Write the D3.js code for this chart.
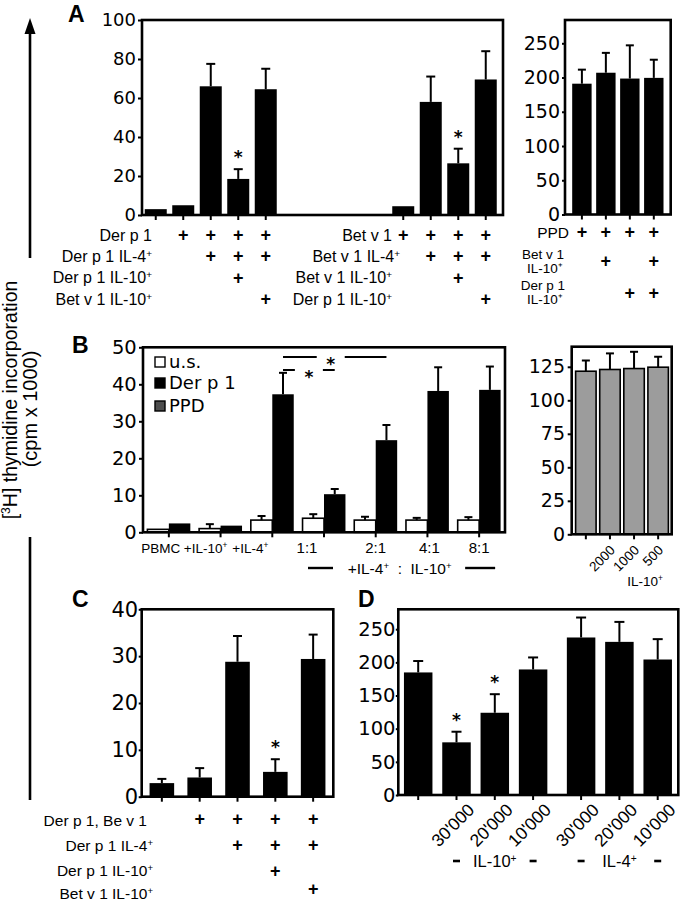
<!DOCTYPE html>
<html><head><meta charset="utf-8">
<script src="https://cdn.jsdelivr.net/npm/d3@7"></script>
<style>body{margin:0;background:#fff}svg{display:block}</style>
</head><body><svg id="chart" width="682" height="900"></svg>
<script>
// ---------------- DATA ----------------
// Panel A (left): Der p 1 group and Bet v 1 group
const aDerValues = [3, 5, 66, 18.5, 64.5];
const aDerErrors = [null, null, 77.5, 23.5, 75];
const aDerStars  = [0, 0, 0, 1, 0];
const aBetValues = [4.5, 58, 26.5, 69.5];
const aBetErrors = [null, 71, 34, 84];
const aBetStars  = [0, 0, 1, 0];
const aDerRows = ["Der p 1", "Der p 1 IL-4^+", "Der p 1 IL-10^+", "Bet v 1 IL-10^+"];
const aDerPlus = [[0,1,1,1,1],[0,0,1,1,1],[0,0,0,1,0],[0,0,0,0,1]];
const aBetRows = ["Bet v 1", "Bet v 1 IL-4^+", "Bet v 1 IL-10^+", "Der p 1 IL-10^+"];
const aBetPlus = [[1,1,1,1],[0,1,1,1],[0,0,1,0],[0,0,0,1]];
const aTicks = [0, 20, 40, 60, 80, 100];

// Panel A (right): PPD
const ppdValues = [191, 207, 198.5, 199.5];
const ppdErrors = [211.5, 236, 247, 226];
const ppdRows = [["PPD"], ["Bet v 1", "IL-10\u207A"], ["Der p 1", "IL-10\u207A"]];
const ppdPlus = [[1,1,1,1],[0,1,0,1],[0,0,1,1]];
const ppdTicks = [0, 50, 100, 150, 200, 250];

// Panel B (left)
const bGroups = ["PBMC", "+IL-10^+", "+IL-4^+", "1:1", "2:1", "4:1", "8:1"];
const bSeries = ["u.s.", "Der p 1", "PPD"];
const bUsValues  = [0.8, 1.0, 3.3, 3.8, 3.3, 3.3, 3.3];
const bUsErrors  = [null, 2.2, 4.4, 4.9, 4.2, 3.9, 4.1];
const bDerValues = [2.4, 1.8, 37.3, 10.3, 24.9, 38.2, 38.5];
const bDerErrors = [null, null, 43.1, 11.7, 29.0, 44.6, 44.8];
const bTicks = [0, 10, 20, 30, 40, 50];

// Panel B (right)
const b2Labels = ["", "2000", "1000", "500"];
const b2Values = [121.7, 123, 123.7, 124.7];
const b2Errors = [129.7, 135, 136.2, 132.5];
const b2Ticks = [0, 25, 50, 75, 100, 125];

// Panel C
const cValues = [2.9, 4.1, 28.8, 5.3, 29.4];
const cErrors = [3.8, 6.1, 34.3, 8.0, 34.6];
const cStars  = [0, 0, 0, 1, 0];
const cRows = ["Der p 1, Be v 1", "Der p 1 IL-4^+", "Der p 1 IL-10^+", "Bet v 1 IL-10^+"];
const cPlus = [[0,1,1,1,1],[0,0,1,1,1],[0,0,0,1,0],[0,0,0,0,1]];
const cTicks = [0, 10, 20, 30, 40];

// Panel D
const dLabels = ["", "30'000", "20'000", "10'000", "30'000", "20'000", "10'000"];
const dValues = [184.8, 79.4, 124, 189.3, 237.5, 230.9, 204.3];
const dErrors = [202, 95.4, 152, 207.4, 267.6, 261, 235];
const dStars  = [0, 1, 1, 0, 0, 0, 0];
const dGroups = [{label: "IL-10^+", from: 1, mid: 2, to: 3}, {label: "IL-4^+", from: 4, mid: 5, to: 6}];
const dTicks = [0, 50, 100, 150, 200, 250];

// ---------------- HELPERS ----------------
const LAB = '"Liberation Sans", Arial, Helvetica, sans-serif';
const NUM = '"DejaVu Sans", sans-serif';
const svg = d3.select('#chart');
svg.append('rect').attr('width', 682).attr('height', 900).attr('fill', '#fff');

function rich(t, str) {
  str.split(/(\^.)/).filter(s => s.length).forEach(p => {
    if (p[0] === '^') t.append('tspan').attr('baseline-shift', 'super').attr('font-size', '62%').text(p.slice(1));
    else t.append('tspan').text(p);
  });
  return t;
}
function label(g, x, y, str, o = {}) {
  const t = g.append('text').attr('x', x).attr('y', y)
    .attr('font-family', o.family || LAB).attr('font-size', o.size || 16)
    .attr('text-anchor', o.anchor || 'start').attr('font-weight', o.weight || 'normal')
    .attr('fill', '#000');
  if (o.pre) t.style('white-space', 'pre');
  if (o.rotate) t.attr('transform', `rotate(${o.rotate},${x},${y})`);
  return rich(t, str);
}
// two-line centred label as a single text element
function label2(g, x, y, lines, lh, size) {
  const t = g.append('text').attr('y', y).attr('font-family', LAB).attr('font-size', size)
    .attr('text-anchor', 'middle').attr('fill', '#000');
  lines.forEach((ln, k) => t.append('tspan').attr('x', x + (k ? 2 : 0)).attr('dy', k ? lh : 0).text(ln));
}
function axisY(g, y, x0, ticks, size, tickLen, pad) {
  const a = g.append('g').attr('transform', `translate(${x0},0)`)
    .call(d3.axisLeft(y).tickValues(ticks).tickSize(tickLen).tickPadding(pad).tickFormat(d3.format('d')));
  a.select('.domain').remove();
  a.selectAll('.tick line').attr('stroke', '#000').attr('stroke-width', 2);
  a.selectAll('.tick text').attr('font-family', NUM).attr('font-size', size).attr('fill', '#000');
}
function frame(g, x0, x1, yTop, yBot) {
  g.append('rect').attr('x', x0).attr('y', yTop).attr('width', x1 - x0).attr('height', yBot - yTop)
    .attr('fill', 'none').attr('stroke', '#000').attr('stroke-width', 2.6);
}
function xTicks(g, centers, y0) {
  g.append('g').selectAll('line').data(centers).join('line')
    .attr('x1', d => d).attr('x2', d => d).attr('y1', y0).attr('y2', y0 + 5)
    .attr('stroke', '#000').attr('stroke-width', 2);
}
function bars(g, data, y, cap) {
  g.append('g').selectAll('rect').data(data.filter(d => d.v != null)).join('rect')
    .attr('x', d => d.cx - d.w / 2).attr('width', d => d.w)
    .attr('y', d => y(d.v)).attr('height', d => y(0) - y(d.v))
    .attr('fill', d => d.fill || '#000').attr('stroke', d => d.stroke || 'none').attr('stroke-width', 1.6);
  const e = data.filter(d => d.err != null);
  const eg = g.append('g').attr('stroke', '#000').attr('stroke-width', 2);
  eg.selectAll('line.v').data(e).join('line').attr('class', 'v')
    .attr('x1', d => d.cx).attr('x2', d => d.cx).attr('y1', d => y(d.v)).attr('y2', d => y(d.err));
  eg.selectAll('line.c').data(e).join('line').attr('class', 'c')
    .attr('x1', d => d.cx - cap / 2).attr('x2', d => d.cx + cap / 2).attr('y1', d => y(d.err)).attr('y2', d => y(d.err));
  g.append('g').selectAll('text').data(data.filter(d => d.star)).join('text')
    .attr('x', d => d.cx).attr('y', d => y(d.err) - 6).attr('text-anchor', 'middle')
    .attr('font-family', NUM).attr('font-weight', 'bold').attr('font-size', 17).text('*');
}
function plusRows(g, matrix, centers, ys) {
  matrix.forEach((row, r) => {
    g.append('g').selectAll('text').data(row.map((m, i) => ({m, cx: centers[i]})).filter(d => d.m)).join('text')
      .attr('x', d => d.cx).attr('y', ys[r] + 6).attr('text-anchor', 'middle')
      .attr('font-family', LAB).attr('font-weight', 'bold').attr('font-size', 18).text('+');
  });
}

// ---------------- LEFT Y LABEL & ARROW ----------------
const gL = svg.append('g');
gL.append('line').attr('x1', 30).attr('x2', 30).attr('y1', 258).attr('y2', 30).attr('stroke', '#000').attr('stroke-width', 2.6);
gL.append('path').attr('d', 'M30,18 L24.5,34 L35.5,34 Z').attr('fill', '#000');
gL.append('line').attr('x1', 30).attr('x2', 30).attr('y1', 537).attr('y2', 800).attr('stroke', '#000').attr('stroke-width', 2.6);
label(gL, 17, 400, "[^3H] thymidine incorporation", {size: 19.5, anchor: 'middle', rotate: -90});
label(gL, 37, 409, "(cpm x 1000)", {size: 20, anchor: 'middle', rotate: -90});

// ---------------- PANEL A LEFT ----------------
const gA = svg.append('g');
const yA = d3.scaleLinear().domain([0, 100]).range([215, 20]);
const xA = d3.scaleBand().domain(d3.range(13)).range([142, 499.5]).paddingInner(0.2).paddingOuter(0.1);
const aDerSlots = [0, 1, 2, 3, 4], aBetSlots = [9, 10, 11, 12];
const cA = s => xA(s) + xA.bandwidth() / 2;
const aData = aDerValues.map((v, i) => ({cx: cA(aDerSlots[i]), w: xA.bandwidth(), v, err: aDerErrors[i], star: aDerStars[i]}))
  .concat(aBetValues.map((v, i) => ({cx: cA(aBetSlots[i]), w: xA.bandwidth(), v, err: aBetErrors[i], star: aBetStars[i]})));
bars(gA, aData, yA, 9);
xTicks(gA, aData.map(d => d.cx), 215);
axisY(gA, yA, 142, aTicks, 18, 4, 2);
frame(gA, 142, 503, 20, 215);
label(gA, 68, 22, "A", {size: 23, weight: 'bold'});
const aRowY = [235, 256, 277.5, 299];
aDerRows.forEach((s, r) => label(gA, 152, aRowY[r] + 5.5, s, {anchor: 'end'}));
aBetRows.forEach((s, r) => label(gA, r === 1 ? 400 : 392, aRowY[r] + 5.5, s, {anchor: 'end'}));
plusRows(gA, aDerPlus, aDerSlots.map(cA), aRowY);
plusRows(gA, aBetPlus, aBetSlots.map(cA), aRowY);

// ---------------- PANEL A RIGHT ----------------
const gAR = svg.append('g');
const yAR = d3.scaleLinear().domain([0, 284]).range([214.5, 20]);
const xAR = d3.scaleBand().domain(d3.range(4)).range([565, 670.7]).paddingInner(0.19).paddingOuter(0.3);
const cAR = i => xAR(i) + xAR.bandwidth() / 2;
bars(gAR, ppdValues.map((v, i) => ({cx: cAR(i), w: xAR.bandwidth(), v, err: ppdErrors[i]})), yAR, 8);
xTicks(gAR, d3.range(4).map(cAR), 214.5);
axisY(gAR, yAR, 565, ppdTicks, 19, 3, 2);
frame(gAR, 565, 670.7, 20, 214.5);
label(gAR, 569, 237.5, ppdRows[0][0], {anchor: 'end', size: 15.5});
label2(gAR, 543, 258.5, ppdRows[1], 14, 13.5);
label2(gAR, 543, 290, ppdRows[2], 14, 13.5);
plusRows(gAR, ppdPlus, d3.range(4).map(cAR), [232, 261, 293]);

// ---------------- PANEL B LEFT ----------------
const gB = svg.append('g');
const yB = d3.scaleLinear().domain([0, 50]).range([532.3, 347.3]);
const xB = d3.scaleBand().domain(bGroups).range([143, 505]).paddingInner(0.17).paddingOuter(0.085);
const xBs = d3.scaleBand().domain(['us', 'der']).range([0, xB.bandwidth()]);
const bw = xBs.bandwidth();
const bData = bGroups.flatMap((g, i) => [
  {cx: xB(g) + xBs('us') + bw / 2, w: bw, v: bUsValues[i], err: bUsErrors[i], fill: '#fff', stroke: '#000'},
  {cx: xB(g) + xBs('der') + bw / 2, w: bw, v: bDerValues[i], err: bDerErrors[i]}
]);
bars(gB, bData, yB, 8);
xTicks(gB, bGroups.map(g => xB(g) + xB.bandwidth() / 2), 532.3);
axisY(gB, yB, 143, bTicks, 19.5, 4, 2.3);
frame(gB, 143, 505, 347.3, 532.3);
label(gB, 72, 353, "B", {size: 23, weight: 'bold'});
const bLabelShift = [-8, -15, -22, -17, 0, 2, 0];
bGroups.forEach((g, i) => label(gB, xB(g) + xB.bandwidth() / 2 + bLabelShift[i], 552.5, g,
  {anchor: 'middle', size: i < 3 ? 13.5 : 15}));
// ratio bracket
const cB = g => xB(g) + xB.bandwidth() / 2;
gB.append('line').attr('x1', cB('1:1') - 16).attr('x2', cB('1:1') + 9).attr('y1', 568).attr('y2', 568).attr('stroke', '#000').attr('stroke-width', 2.4);
gB.append('line').attr('x1', cB('8:1') - 14).attr('x2', cB('8:1') + 16).attr('y1', 568).attr('y2', 568).attr('stroke', '#000').attr('stroke-width', 2.4);
label(gB, (cB('1:1') + cB('8:1')) / 2 - 2, 573.5, "+IL-4^+  :  IL-10^+", {anchor: 'middle', size: 15.5, pre: true});
// legend
const legColors = ['#fff', '#000', '#4d4d4d'];
const legY = [357, 378, 401];
bSeries.forEach((s, i) => {
  gB.append('rect').attr('x', 155).attr('y', legY[i]).attr('width', 10).attr('height', 10)
    .attr('fill', legColors[i]).attr('stroke', '#000').attr('stroke-width', 1.4);
  label(gB, 169, legY[i] + 11, s, {family: NUM, size: 18});
});
// significance brackets
const derC = g => xB(g) + xBs('der') + bw / 2;
function sig(x1, x2, y, gap, sx) {
  gB.append('line').attr('x1', x1).attr('x2', sx - gap).attr('y1', y).attr('y2', y).attr('stroke', '#000').attr('stroke-width', 2);
  gB.append('line').attr('x1', sx + gap).attr('x2', x2).attr('y1', y).attr('y2', y).attr('stroke', '#000').attr('stroke-width', 2);
  gB.append('text').attr('x', sx).attr('y', y + 13).attr('text-anchor', 'middle').attr('font-family', NUM)
    .attr('font-weight', 'bold').attr('font-size', 17).text('*');
}
sig(derC('+IL-4^+'), derC('2:1'), 357, 14, (derC('+IL-4^+') + derC('2:1')) / 2 - 4);
sig(derC('+IL-4^+'), derC('1:1'), 370, 14, (derC('+IL-4^+') + derC('1:1')) / 2);

// ---------------- PANEL B RIGHT ----------------
const gBR = svg.append('g');
const yBR = d3.scaleLinear().domain([0, 140]).range([534.3, 346.7]);
const xBR = d3.scaleBand().domain(d3.range(4)).range([572, 672]).paddingInner(0.15).paddingOuter(0.15);
const cBR = i => xBR(i) + xBR.bandwidth() / 2;
bars(gBR, b2Values.map((v, i) => ({cx: cBR(i), w: xBR.bandwidth(), v, err: b2Errors[i], fill: '#9c9c9c', stroke: '#000'})), yBR, 8);
xTicks(gBR, d3.range(4).map(cBR), 534.3);
axisY(gBR, yBR, 571.7, b2Ticks, 19, 4, 2.7);
frame(gBR, 571.7, 671.7, 346.7, 534.3);
b2Labels.forEach((s, i) => { if (s) label(gBR, cBR(i) + 6, 551, s, {anchor: 'end', size: 13.5, rotate: -45}); });
label(gBR, 645, 585.5, "IL-10^+", {anchor: 'middle', size: 13.5});

// ---------------- PANEL C ----------------
const gC = svg.append('g');
const yC = d3.scaleLinear().domain([0, 40]).range([796.7, 609.3]);
const xC = d3.scaleBand().domain(d3.range(5)).range([142, 333]).paddingInner(0.35).paddingOuter(0.2);
const cC = i => xC(i) + xC.bandwidth() / 2;
bars(gC, cValues.map((v, i) => ({cx: cC(i), w: xC.bandwidth(), v, err: cErrors[i], star: cStars[i]})), yC, 9);
xTicks(gC, d3.range(5).map(cC), 796.7);
axisY(gC, yC, 141.7, cTicks, 21, 3, 0.5);
frame(gC, 141.7, 333.3, 609.3, 796.7);
label(gC, 72, 606.5, "C", {size: 23, weight: 'bold'});
const cRowY = [820, 845, 870, 893];
cRows.forEach((s, r) => label(gC, r === 0 ? 147 : 153, cRowY[r] + 5.5, s, {anchor: 'end', size: 15.5}));
plusRows(gC, cPlus, d3.range(5).map(cC), [819, 845, 870.5, 889]);

// ---------------- PANEL D ----------------
const gD = svg.append('g');
const yD = d3.scaleLinear().domain([0, 280]).range([795, 609.3]);
const xD = d3.scaleBand().domain(d3.range(7)).range([398.3, 667.9]).paddingInner(0.256).paddingOuter(0.1475);
const dGap = 9.7;
const cD = i => xD(i) + xD.bandwidth() / 2 + (i >= 4 ? dGap : 0);
bars(gD, dValues.map((v, i) => ({cx: cD(i), w: xD.bandwidth(), v, err: dErrors[i], star: dStars[i]})), yD, 10);
xTicks(gD, d3.range(7).map(cD), 795);
axisY(gD, yD, 398.3, dTicks, 19.5, 2.5, 0.3);
frame(gD, 398.3, 678.3, 609.3, 795);
label(gD, 358, 606.5, "D", {size: 23, weight: 'bold'});
dLabels.forEach((s, i) => { if (s) label(gD, cD(i) + 19, 811, s, {anchor: 'end', size: 17.5, rotate: -45}); });
dGroups.forEach(gr => {
  [gr.from, gr.to].forEach(i => gD.append('line').attr('x1', cD(i) - 3.5).attr('x2', cD(i) + 3.5)
    .attr('y1', 861).attr('y2', 861).attr('stroke', '#000').attr('stroke-width', 2.6));
  label(gD, cD(gr.mid), 867, gr.label, {anchor: 'middle', size: 16.5});
});
</script></body></html>
